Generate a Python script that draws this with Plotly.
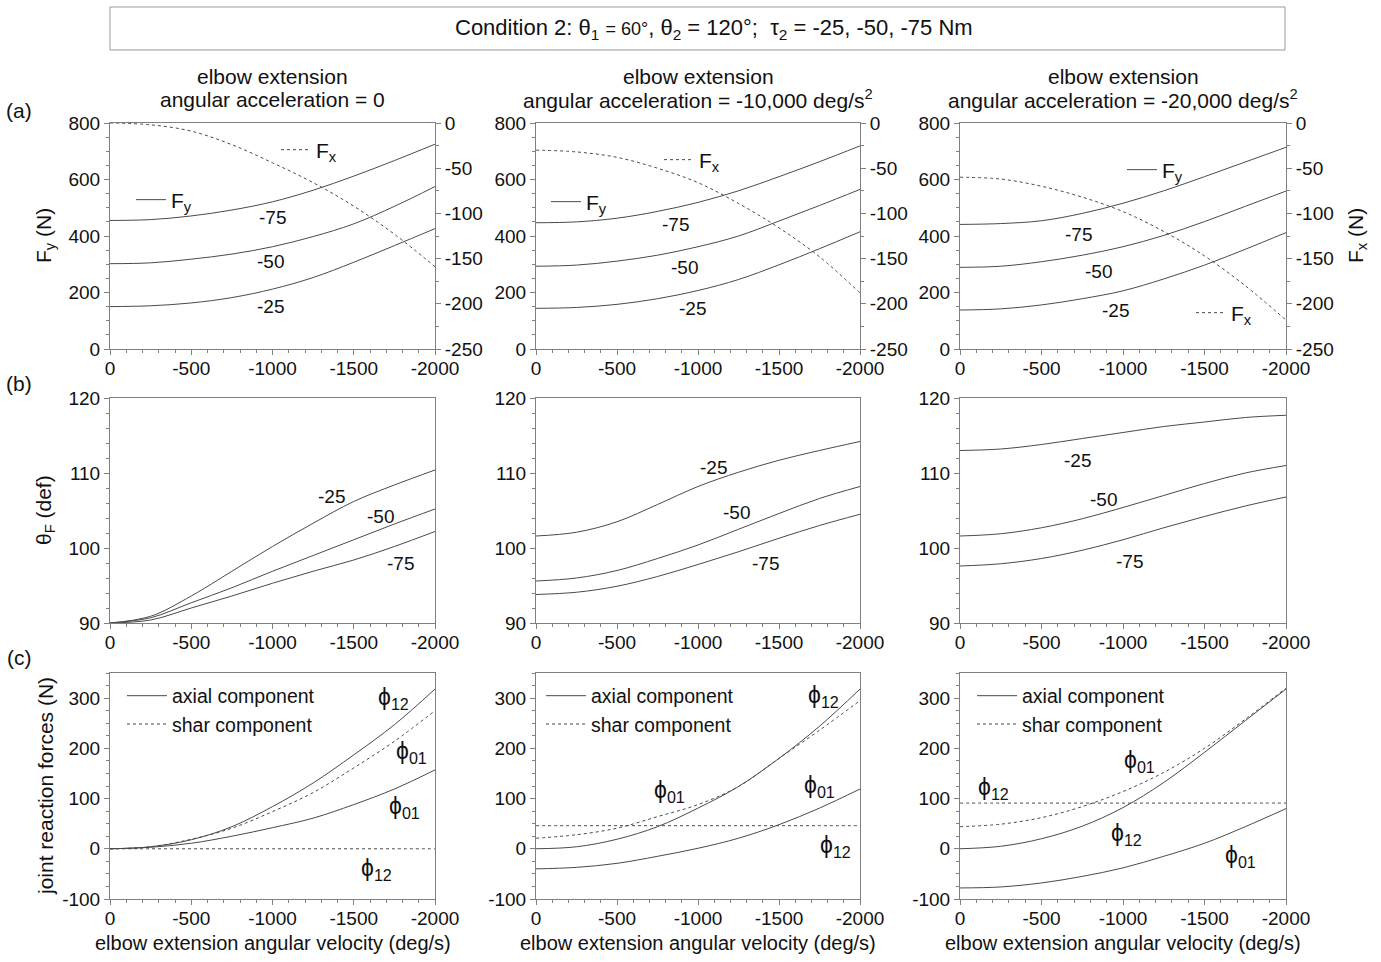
import plotly.graph_objects as go

W, H = 1381, 962

# ---------------- data ----------------
velocity = [0, -250, -500, -750, -1000, -1250, -1500, -1750, -2000]

# (a) Fy (N) for tau2 = -75, -50, -25 ; Fx (N)
fy_c1_m75 = [455, 458, 471, 492, 521, 562, 612, 667, 725]
fy_c1_m50 = [302, 305, 318, 336, 362, 398, 443, 505, 575]
fy_c1_m25 = [150, 153, 163, 182, 212, 253, 307, 366, 426]
fx_c1 = [0, -2, -9, -24, -44, -66, -92, -123, -159]

fy_c2_m75 = [447, 450, 463, 487, 519, 560, 610, 663, 719]
fy_c2_m50 = [293, 297, 311, 332, 362, 400, 453, 508, 565]
fy_c2_m25 = [144, 147, 158, 178, 207, 246, 298, 355, 415]
fx_c2 = [-30, -32, -38, -50, -66, -89, -116, -148, -188]

fy_c3_m75 = [441, 444, 454, 480, 516, 560, 610, 662, 714]
fy_c3_m50 = [289, 293, 309, 332, 362, 402, 451, 505, 559]
fy_c3_m25 = [138, 142, 156, 178, 206, 248, 297, 353, 412]
fx_c3 = [-60, -62, -70, -82, -98, -120, -147, -180, -218]

# (b) theta_F (deg)
th_c1_m25 = [90, 90.9, 93.6, 96.9, 100.2, 103.3, 106.2, 108.4, 110.4]
th_c1_m50 = [90, 90.7, 92.7, 94.7, 96.9, 99.0, 101.1, 103.2, 105.2]
th_c1_m75 = [90, 90.4, 92.0, 93.6, 95.3, 96.9, 98.4, 100.2, 102.2]

th_c2_m25 = [101.6, 102.1, 103.5, 105.8, 108.2, 110.1, 111.7, 113.0, 114.2]
th_c2_m50 = [95.6, 96.0, 97.0, 98.6, 100.4, 102.5, 104.6, 106.6, 108.2]
th_c2_m75 = [93.8, 94.1, 94.9, 96.2, 97.8, 99.5, 101.3, 103.0, 104.5]

th_c3_m25 = [113.0, 113.2, 113.8, 114.6, 115.4, 116.2, 116.8, 117.4, 117.7]
th_c3_m50 = [101.6, 101.9, 102.7, 103.9, 105.4, 107.0, 108.6, 110.0, 111.0]
th_c3_m75 = [97.6, 97.9, 98.6, 99.7, 101.1, 102.7, 104.2, 105.6, 106.8]

# (c) joint reaction forces (N)
ax12_c1 = [0, 4, 18, 44, 84, 131, 187, 247, 318]
ax01_c1 = [0, 3, 11, 25, 42, 61, 88, 119, 157]
sh01_c1 = [0, 4, 19, 41, 74, 112, 161, 214, 275]
sh12_c1 = [0, 0, 0, 0, 0, 0, 0, 0, 0]

ax12_c2 = [0, 4, 19, 44, 81, 124, 180, 244, 318]
ax01_c2 = [-40, -37, -29, -15, 1, 21, 48, 81, 119]
sh01_c2 = [21, 28, 41, 64, 88, 124, 180, 236, 295]
sh12_c2 = [46, 46, 46, 46, 46, 46, 46, 46, 46]

ax12_c3 = [0, 5, 20, 45, 82, 132, 192, 255, 318]
ax01_c3 = [-78, -76, -68, -55, -38, -15, 11, 44, 80]
sh01_c3 = [44, 49, 62, 84, 114, 152, 200, 258, 320]
sh12_c3 = [91, 91, 91, 91, 91, 91, 91, 91, 91]

x_tickvals = [0, -500, -1000, -1500, -2000]
x_ticktext = ["0", "-500", "-1000", "-1500", "-2000"]
fy_tickvals = [0, 200, 400, 600, 800]
fy_ticktext = ["0", "200", "400", "600", "800"]
fx_tickvals = [0, -50, -100, -150, -200, -250]
fx_ticktext = ["0", "-50", "-100", "-150", "-200", "-250"]
th_tickvals = [90, 100, 110, 120]
th_ticktext = ["90", "100", "110", "120"]
jr_tickvals = [-100, 0, 100, 200, 300]
jr_ticktext = ["-100", "0", "100", "200", "300"]

col_header_top = "elbow extension"
col_header_bottom = [
    "angular acceleration = 0",
    "angular acceleration = -10,000 deg/s<sup>2</sup>",
    "angular acceleration = -20,000 deg/s<sup>2</sup>",
]
curve_labels = ["-75", "-50", "-25"]

# ---------------- styling ----------------
FONT = "Liberation Sans, Arial, sans-serif"
LINE_C = "#4a4a4a"
AX_C = "#808080"
TXT_C = "#111111"
TICK_SZ = 19
LBL_SZ = 21

col_px = [(110, 435), (536, 860), (960, 1286)]
row_px = [(123, 349), (398, 623), (673, 899)]


def fx_(p):
    return p / W


def fy_(p):
    return 1 - p / H


fig = go.Figure()
layout = dict(
    width=W, height=H, margin=dict(l=0, r=0, t=0, b=0, pad=0, autoexpand=False),
    paper_bgcolor="white", plot_bgcolor="white",
    font=dict(family=FONT, size=TICK_SZ, color=TXT_C),
    showlegend=True,
)


def axname(i, kind):
    return kind if i == 1 else f"{kind}{i}"


def xaxis_dict(c, r):
    idx = r * 3 + c + 1
    return dict(
        domain=[fx_(col_px[c][0]), fx_(col_px[c][1])],
        anchor=axname(idx, "y"),
        range=[0, -2000],
        tickmode="array", tickvals=x_tickvals, ticktext=x_ticktext,
        ticks="outside", ticklen=5, tickcolor=AX_C, tickwidth=1,
        ticklabelstandoff=-3,
        minor=dict(tickmode="linear", tick0=0, dtick=100, ticks="outside",
                   ticklen=3, tickcolor=AX_C),
        showline=True, linecolor=AX_C, linewidth=1, mirror=True,
        showgrid=False, zeroline=False,
        tickfont=dict(size=TICK_SZ, family=FONT, color=TXT_C),
    )


def yaxis_dict(c, r, rng, tv, tt, mdt):
    idx = r * 3 + c + 1
    return dict(
        domain=[fy_(row_px[r][1]), fy_(row_px[r][0])],
        anchor=axname(idx, "x"),
        range=rng,
        tickmode="array", tickvals=tv, ticktext=tt,
        ticks="outside", ticklen=5, tickcolor=AX_C, tickwidth=1,
        minor=dict(tickmode="linear", tick0=0, dtick=mdt, ticks="outside",
                   ticklen=3, tickcolor=AX_C),
        showline=True, linecolor=AX_C, linewidth=1, mirror=True,
        showgrid=False, zeroline=False,
        tickfont=dict(size=TICK_SZ, family=FONT, color=TXT_C),
    )


for r in range(3):
    for c in range(3):
        idx = r * 3 + c + 1
        layout[f"xaxis{idx}"] = xaxis_dict(c, r)
        if r == 0:
            layout[f"yaxis{idx}"] = yaxis_dict(c, r, [0, 800], fy_tickvals, fy_ticktext, 50)
        elif r == 1:
            layout[f"yaxis{idx}"] = yaxis_dict(c, r, [90, 120], th_tickvals, th_ticktext, 2)
        else:
            layout[f"yaxis{idx}"] = yaxis_dict(c, r, [-100, 350], jr_tickvals, jr_ticktext, 25)

# right-hand Fx axes for row (a)
for c in range(3):
    layout[f"yaxis{10 + c}"] = dict(
        overlaying=axname(c + 1, "y"), anchor=axname(c + 1, "x"), side="right",
        range=[-250, 0],
        tickmode="array", tickvals=fx_tickvals, ticktext=fx_ticktext,
        ticks="outside", ticklen=5, tickcolor=AX_C, tickwidth=1,
        minor=dict(tickmode="linear", tick0=0, dtick=25, ticks="outside",
                   ticklen=3, tickcolor=AX_C),
        showline=True, linecolor=AX_C, linewidth=1,
        showgrid=False, zeroline=False,
        tickfont=dict(size=TICK_SZ, family=FONT, color=TXT_C),
    )

SOLID = dict(color=LINE_C, width=1, shape="spline")
DASH = dict(color=LINE_C, width=1, shape="spline", dash="3px,3px")


def add(x, y, xi, yi, line, name="", legend=None):
    fig.add_trace(go.Scatter(
        x=x, y=y, mode="lines", line=line, name=name,
        xaxis=axname(xi, "x"), yaxis=axname(yi, "y"),
        showlegend=legend is not None, legend=legend if legend else "legend",
        hoverinfo="skip",
    ))


fy_sets = [(fy_c1_m75, fy_c1_m50, fy_c1_m25, fx_c1),
           (fy_c2_m75, fy_c2_m50, fy_c2_m25, fx_c2),
           (fy_c3_m75, fy_c3_m50, fy_c3_m25, fx_c3)]
th_sets = [(th_c1_m75, th_c1_m50, th_c1_m25),
           (th_c2_m75, th_c2_m50, th_c2_m25),
           (th_c3_m75, th_c3_m50, th_c3_m25)]
jr_sets = [(ax12_c1, ax01_c1, sh01_c1, sh12_c1),
           (ax12_c2, ax01_c2, sh01_c2, sh12_c2),
           (ax12_c3, ax01_c3, sh01_c3, sh12_c3)]

legend_names = ["legend", "legend2", "legend3", "legend4", "legend5",
                "legend6", "legend7", "legend8", "legend9"]

for c in range(3):
    m75, m50, m25, fx = fy_sets[c]
    i = c + 1
    add(velocity, m75, i, i, SOLID, "F<sub>y</sub>", legend_names[2 * c])
    add(velocity, m50, i, i, SOLID)
    add(velocity, m25, i, i, SOLID)
    add(velocity, fx, i, 10 + c, DASH, "F<sub>x</sub>", legend_names[2 * c + 1])

    t75, t50, t25 = th_sets[c]
    i = 3 + c + 1
    add(velocity, t75, i, i, SOLID)
    add(velocity, t50, i, i, SOLID)
    add(velocity, t25, i, i, SOLID)

    a12, a01, s01, s12 = jr_sets[c]
    i = 6 + c + 1
    add(velocity, a12, i, i, SOLID, "axial component", legend_names[6 + c])
    add(velocity, a01, i, i, SOLID)
    add(velocity, s01, i, i, DASH, "shar component", legend_names[6 + c])
    add(velocity, s12, i, i, DASH)

# legends: (sample-start px x, centre px y)
legend_pos = [(139, 200), (284, 150), (554, 202), (667, 160), (1130, 170), (1199, 313),
              (130, 710), (549, 710), (980, 710)]
for k, (lx, ly) in enumerate(legend_pos):
    layout[legend_names[k]] = dict(
        x=fx_(lx - 8), y=fy_(ly), xanchor="left", yanchor="middle",
        bgcolor="rgba(0,0,0,0)", borderwidth=0,
        font=dict(family=FONT, size=LBL_SZ if k < 6 else 19.5, color=TXT_C),
        itemwidth=30 if k < 6 else 40, tracegroupgap=0,
    )

annotations = []


def ann(text, x, y, xref="paper", yref="paper", size=LBL_SZ, **kw):
    d = dict(text=text, x=x, y=y, xref=xref, yref=yref, showarrow=False,
             xanchor="center", yanchor="middle",
             font=dict(family=FONT, size=size, color=TXT_C))
    d.update(kw)
    annotations.append(d)


# top title
ann("Condition 2: θ<sub>1</sub> <span style='font-size:18px'>= 60°</span>, "
    "θ<sub>2</sub> = 120°;  τ<sub>2</sub> = -25, -50, -75 Nm",
    fx_(714), fy_(29), size=22)

# column headers
for c in range(3):
    cx = (col_px[c][0] + col_px[c][1]) / 2
    ann(col_header_top, fx_(cx), fy_(77), size=LBL_SZ)
    ann(col_header_bottom[c], fx_(cx), fy_(99), size=LBL_SZ)

# panel letters
for t, py in [("(a)", 110), ("(b)", 383), ("(c)", 657)]:
    ann(t, fx_(19), fy_(py), size=LBL_SZ)

# axis titles
ann("F<sub>y</sub> (N)", fx_(45), fy_(236), textangle=-90)
ann("θ<sub>F</sub> (def)", fx_(45), fy_(510), textangle=-90)
ann("joint reaction forces (N)", fx_(45), fy_(786), textangle=-90)
ann("F<sub>x</sub> (N)", fx_(1357), fy_(236), textangle=-90)
for c in range(3):
    cx = (col_px[c][0] + col_px[c][1]) / 2
    ann("elbow extension angular velocity (deg/s)", fx_(cx), fy_(943), size=20)

# curve labels in row (a): (velocity, Fy) per column, order -75, -50, -25
a_lab = [[(-997, 464), (-985, 308), (-985, 149)],
         [(-858, 439), (-914, 287), (-969, 142)],
         [(-730, 404), (-847, 273), (-957, 138)]]
for c in range(3):
    for k, (vx, vy) in enumerate(a_lab[c]):
        ann(curve_labels[k], vx, vy, xref=axname(c + 1, "x"), yref=axname(c + 1, "y"),
            size=19)

# row (b): order -25, -50, -75
b_lab = [[(-1366, 106.9), (-1662, 104.2), (-1785, 98.0)],
         [(-1093, 110.8), (-1239, 104.8), (-1414, 97.9)],
         [(-722, 111.7), (-879, 106.5), (-1037, 98.2)]]
b_text = ["-25", "-50", "-75"]
for c in range(3):
    for k, (vx, vy) in enumerate(b_lab[c]):
        ann(b_text[k], vx, vy, xref=axname(4 + c, "x"), yref=axname(4 + c, "y"), size=19)

# row (c): phi labels
PHI12 = "ϕ<sub>12</sub>"
PHI01 = "ϕ<sub>01</sub>"
c_lab = [[(PHI12, -1742, 300), (PHI01, -1858, 191), (PHI01, -1815, 82), (PHI12, -1643, -42)],
         [(PHI12, -1773, 303), (PHI01, -827, 114), (PHI01, -1753, 124), (PHI12, -1846, 4)],
         [(PHI12, -204, 121), (PHI01, -1104, 174), (PHI12, -1022, 28), (PHI01, -1718, -15)]]
for c in range(3):
    for t, vx, vy in c_lab[c]:
        ann(t, vx, vy, xref=axname(7 + c, "x"), yref=axname(7 + c, "y"), size=23)

layout["annotations"] = annotations
layout["shapes"] = [dict(type="rect", xref="paper", yref="paper",
                         x0=fx_(110), x1=fx_(1285), y0=fy_(50), y1=fy_(7),
                         line=dict(color="#999999", width=1))]

fig.update_layout(**layout)
fig.write_html("out.html")
